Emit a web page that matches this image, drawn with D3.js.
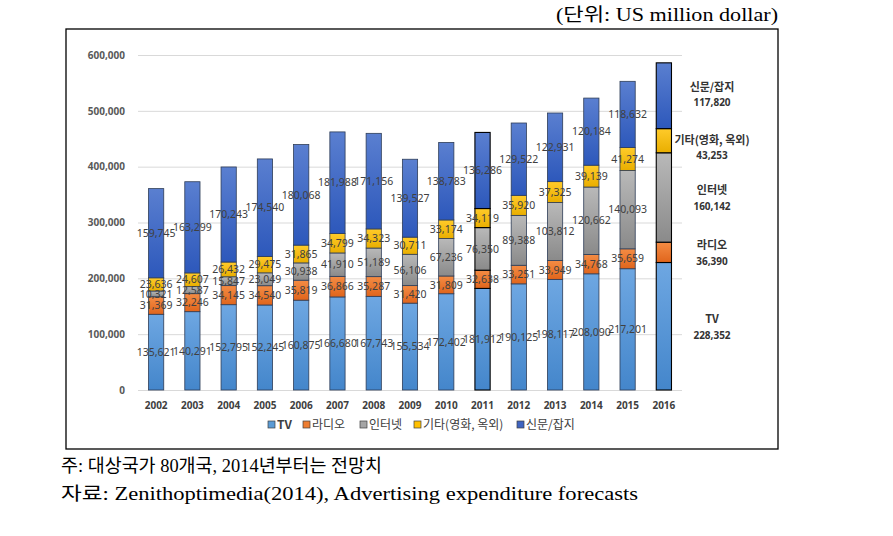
<!DOCTYPE html>
<html><head><meta charset="utf-8">
<script src="https://cdn.jsdelivr.net/npm/d3@7"></script>
<style>body{margin:0;background:#fff}</style></head>
<body><svg id="c" width="893" height="536"></svg>
<script>
const years = ["2002","2003","2004","2005","2006","2007","2008","2009","2010","2011","2012","2013","2014","2015","2016"];
const seriesNames = ["TV","라디오","인터넷","기타(영화, 옥외)","신문/잡지"];
const tv       = [135621,140291,152795,152245,160875,166680,167743,155534,172402,181912,190125,198117,208090,217201,228352];
const radio    = [31369,32246,34145,34540,35819,36866,35287,31420,31809,32638,33251,33949,34768,35659,36390];
const internet = [10321,12587,15847,23049,30938,41910,51189,56106,67236,76350,89388,103812,120662,140093,160142];
const other    = [23636,24607,26432,29475,31865,34799,34323,30711,33174,34119,35920,37325,39139,41274,43253];
const press    = [159745,163299,170243,174540,180068,181988,171156,139527,138783,136286,129522,122931,120184,118632,117820];
const yTicks   = [0,100000,200000,300000,400000,500000,600000];
const highlightYears = ["2011","2016"];
const titleText = "(단위: US million dollar)";
const note1 = "주: 대상국가 80개국, 2014년부터는 전망치";
const note2 = "자료: Zenithoptimedia(2014), Advertising expenditure forecasts";

const colorTop = ["#6ea7e2","#f48c44","#b9b9b9","#ffcb2a","#5a7fd0"];
const colorBot = ["#4486cb","#e0651c","#8a8a8a","#e9ae00","#2d58bb"];
const legendColor = ["#5b9bd5","#ed7d31","#a5a5a5","#ffc000","#3f64c0"];
const rightLabelShift = [0,0,0,6,-2];

const valuesBySeries = [tv, radio, internet, other, press];
const rows = years.map((yr,i)=>{const r={year:yr}; seriesNames.forEach((s,k)=>r[s]=valuesBySeries[k][i]); return r;});
const stack = d3.stack().keys(seriesNames)(rows);

const svg = d3.select("#c");
const defs = svg.append("defs");
seriesNames.forEach((s,k)=>{
  const g = defs.append("linearGradient").attr("id","g"+k).attr("x1",0).attr("y1",0).attr("x2",0).attr("y2",1);
  g.append("stop").attr("offset","0%").attr("stop-color",colorTop[k]);
  g.append("stop").attr("offset","100%").attr("stop-color",colorBot[k]);
});

// frame
svg.append("rect").attr("x",66).attr("y",29).attr("width",712).attr("height",420)
  .attr("fill","none").attr("stroke","#000").attr("stroke-width",1.3);

const x = d3.scaleBand().domain(years).range([138,682]).paddingInner(0.58).paddingOuter(0.29);
const y = d3.scaleLinear().domain([0,600000]).range([390,55]);

// grid + y axis
const ya = svg.append("g").attr("transform","translate(138,0)")
  .call(d3.axisLeft(y).tickValues(yTicks).tickFormat(d3.format(",")).tickSize(0).tickPadding(13));
ya.select(".domain").remove();
ya.selectAll("text").attr("font-family","Noto Sans, sans-serif").attr("font-size",10).attr("font-weight","bold").attr("fill","#595959");
svg.append("g").selectAll("line").data(yTicks).join("line")
  .attr("x1",138).attr("x2",682).attr("y1",d=>y(d)+0.5).attr("y2",d=>y(d)+0.5)
  .attr("stroke","#d9d9d9").attr("stroke-width",1);

// x axis
const xa = svg.append("g").attr("transform","translate(0,390)")
  .call(d3.axisBottom(x).tickSize(0).tickPadding(12));
xa.select(".domain").remove();
xa.selectAll("text").attr("font-family","Noto Sans, sans-serif").attr("font-size",10).attr("font-weight","bold").attr("fill","#404040");

// bars
stack.forEach((layer,k)=>{
  svg.append("g").selectAll("rect").data(layer).join("rect")
    .attr("x",d=>x(d.data.year)).attr("width",x.bandwidth())
    .attr("y",d=>y(d[1])).attr("height",d=>y(d[0])-y(d[1]))
    .attr("fill","url(#g"+k+")")
    .attr("stroke",d=>highlightYears.includes(d.data.year)?"#000":"#2e3d57")
    .attr("stroke-width",d=>highlightYears.includes(d.data.year)?1.1:0.8);
});

// data labels
stack.forEach((layer,k)=>{
  svg.append("g").selectAll("text").data(layer.filter(d=>d.data.year!==years[years.length-1])).join("text")
    .attr("x",d=>x(d.data.year)+x.bandwidth()/2)
    .attr("y",d=>y((d[0]+d[1])/2))
    .attr("dy","0.35em").attr("text-anchor","middle")
    .attr("font-family","Noto Sans, sans-serif").attr("font-size",10.5).attr("fill","#404040")
    .text(d=>d3.format(",")(d[1]-d[0]));
});

// right-side labels for last year
const last = years.length-1;
stack.forEach((layer,k)=>{
  const d = layer[last];
  const cy = y((d[0]+d[1])/2) + rightLabelShift[k];
  const g = svg.append("g").attr("font-family","Noto Sans CJK KR, Noto Sans, sans-serif").attr("font-weight","bold").attr("fill","#333").attr("text-anchor","middle");
  g.append("text").attr("x",712).attr("y",cy-7).attr("dy","0.35em").attr("font-size",11).text(seriesNames[k]);
  g.append("text").attr("x",712).attr("y",cy+9).attr("dy","0.35em").attr("font-size",10).attr("font-family","Noto Sans, sans-serif").text(d3.format(",")(d.data[seriesNames[k]]));
});

// legend
const legX = [268,303,360,414,517];
const lg = svg.append("g");
seriesNames.forEach((s,k)=>{
  lg.append("rect").attr("x",legX[k]).attr("y",421).attr("width",7).attr("height",7)
    .attr("fill",legendColor[k]).attr("stroke","#404040").attr("stroke-width",0.7);
  lg.append("text").attr("x",legX[k]+9).attr("y",425).attr("dy","0.36em")
    .attr("font-family","Noto Sans CJK KR, sans-serif").attr("font-size",12).attr("fill","#404040")
    .attr("font-weight",k===0?"bold":"normal").text(s);
});

// title
svg.append("text").attr("x",556).attr("y",21).attr("textLength",222).attr("lengthAdjust","spacingAndGlyphs")
  .attr("font-family","Liberation Serif, Noto Sans CJK KR, serif").attr("font-size",18).attr("fill","#000").text(titleText);

// notes
svg.append("text").attr("x",61).attr("y",472).attr("textLength",321).attr("lengthAdjust","spacingAndGlyphs")
  .attr("font-family","Liberation Serif, Noto Sans CJK KR, serif").attr("font-size",18).attr("fill","#000").text(note1);
svg.append("text").attr("x",61).attr("y",500).attr("textLength",577).attr("lengthAdjust","spacingAndGlyphs")
  .attr("font-family","Liberation Serif, Noto Sans CJK KR, serif").attr("font-size",18).attr("fill","#000").text(note2);
</script>
</body></html>
